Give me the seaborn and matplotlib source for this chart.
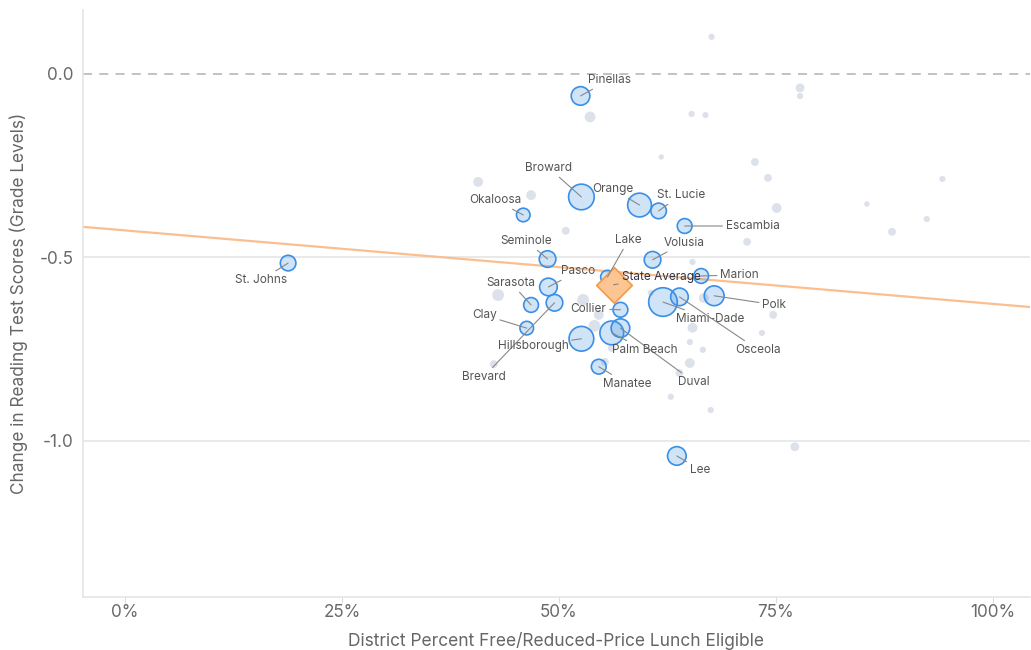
import numpy as np
import pandas as pd
import seaborn as sns
import matplotlib.pyplot as plt
from matplotlib.ticker import FuncFormatter

# --- labeled districts (x = % free/reduced lunch, y = change in grade levels) ---
districts = ["Pinellas", "Broward", "Orange", "St. Lucie", "Okaloosa", "Escambia",
             "Seminole", "Volusia", "St. Johns", "Lake", "Marion", "Pasco", "Polk",
             "Miami-Dade", "Osceola", "Sarasota", "Brevard", "Collier", "Clay",
             "Duval", "Palm Beach", "Hillsborough", "Manatee", "Lee"]
district_frl = [52.5, 52.6, 59.3, 61.5, 45.9, 64.5, 48.7, 60.8, 18.8, 55.6, 66.4,
                48.8, 67.9, 62.0, 63.9, 46.8, 49.5, 57.1, 46.3, 57.1, 56.1, 52.6,
                54.6, 63.6]
district_change = [-0.061, -0.336, -0.358, -0.374, -0.385, -0.415, -0.505, -0.507,
                   -0.516, -0.554, -0.551, -0.581, -0.605, -0.622, -0.608, -0.630,
                   -0.624, -0.643, -0.693, -0.693, -0.706, -0.722, -0.798, -1.041]
# enrollment, thousands
district_enroll = [150, 285, 245, 105, 80, 95, 120, 120, 105, 80, 95, 135, 170,
                   355, 135, 95, 120, 95, 80, 150, 245, 265, 95, 150]

# --- other (unlabeled) districts ---
other_frl = [67.6, 77.8, 77.8, 53.6, 65.3, 66.9, 61.8, 72.6, 74.1, 40.7, 46.8, 94.2,
             75.1, 85.5, 92.4, 88.4, 50.8, 71.7, 65.4, 43.0, 52.8, 60.6, 66.7, 74.7,
             54.6, 54.1, 65.4, 65.1, 73.4, 66.6, 56.1, 65.1, 42.5, 55.3, 63.9, 62.9,
             67.5, 77.2]
other_change = [0.100, -0.039, -0.061, -0.118, -0.110, -0.113, -0.227, -0.241, -0.284,
                -0.295, -0.331, -0.287, -0.366, -0.355, -0.396, -0.431, -0.428, -0.458,
                -0.513, -0.603, -0.616, -0.597, -0.611, -0.657, -0.657, -0.687, -0.692,
                -0.731, -0.706, -0.752, -0.747, -0.788, -0.791, -0.785, -0.815, -0.880,
                -0.916, -1.016]
other_enroll = [17, 34, 17, 51, 17, 17, 13, 27, 27, 42, 42, 17, 42, 13, 17, 27, 27, 27,
                17, 61, 61, 17, 42, 27, 42, 61, 42, 17, 17, 17, 27, 42, 27, 27, 27, 17,
                17, 34]

state_frl = [56.3]
state_change = [-0.575]

# trend line
trend_intercept = -0.427
trend_slope = -0.0020

# label offsets in pixels (dx, dy, ha)
label_pos = {
    "Pinellas": (7, 16, "left"), "Broward": (-9, 29, "right"),
    "Orange": (-6, 16, "right"), "St. Lucie": (-2, 16, "left"),
    "Okaloosa": (-2, 15, "right"), "Escambia": (41, 0, "left"),
    "Seminole": (-21, 18, "center"), "Volusia": (11, 17, "left"),
    "St. Johns": (-27, -17, "center"), "Lake": (21, 37, "center"),
    "Marion": (19, 1, "left"), "Pasco": (13, 16, "left"),
    "Polk": (48, -9, "left"), "Miami-Dade": (13, -17, "left"),
    "Osceola": (56, -53, "left"), "Sarasota": (-20, 22, "center"),
    "Brevard": (-49, -74, "right"), "Collier": (-14, 1, "right"),
    "Clay": (-30, 13, "right"), "Duval": (58, -54, "left"),
    "Palm Beach": (0, -17, "left"), "Hillsborough": (-13, -7, "right"),
    "Manatee": (4, -17, "left"), "Lee": (13, -14, "left"),
}

sns.set_theme(style="white")
plt.rcParams["font.family"] = ["Inter", "DejaVu Sans"]
plt.rcParams["axes.unicode_minus"] = False

df_lab = pd.DataFrame({"frl": district_frl, "chg": district_change,
                       "enroll": district_enroll, "name": districts})
df_oth = pd.DataFrame({"frl": other_frl, "chg": other_change, "enroll": other_enroll})

fig = plt.figure(figsize=(10.31, 6.5), dpi=100)
ax = fig.add_axes([83 / 1031, 53 / 650, 947 / 1031, 587 / 650])

size_kw = dict(size="enroll", sizes=(0, 430), size_norm=(0, 360), legend=False)

sns.scatterplot(data=df_oth, x="frl", y="chg", color="#dde2ea", linewidth=0,
                ax=ax, zorder=2, **size_kw)
ax.axline((0, trend_intercept), slope=trend_slope, color="#fbbf8f", lw=1.6, zorder=2.5)
sns.scatterplot(data=df_lab, x="frl", y="chg", color=(0.17, 0.53, 0.89, 0.22),
                edgecolor="#3a8fe6", linewidth=1.2, ax=ax, zorder=3, **size_kw)
sns.scatterplot(x=state_frl, y=state_change, marker="D", s=330, color="#fcc591",
                edgecolor="#f29a4b", linewidth=1.2, ax=ax, zorder=4, legend=False)

for name, x, y in zip(districts, district_frl, district_change):
    dx, dy, ha = label_pos[name]
    ax.annotate(name, (x, y), xytext=(dx, dy), textcoords="offset pixels",
                ha=ha, va="center", fontsize=8.5, color="#555555", zorder=5,
                arrowprops=dict(arrowstyle="-", color="#888888", lw=0.8,
                                shrinkA=0, shrinkB=0))
ax.annotate("State Average", (state_frl[0], state_change[0]), xytext=(8, 8),
            textcoords="offset pixels", ha="left", va="center", fontsize=8.5,
            color="#333344", zorder=5,
            arrowprops=dict(arrowstyle="-", color="#888888", lw=0.8, shrinkA=0, shrinkB=0))

ax.set_xlim(-4.84, 104.3)
ax.set_ylim(-1.425, 0.173)
ax.set_xticks([0, 25, 50, 75, 100])
ax.xaxis.set_major_formatter(FuncFormatter(lambda v, p: f"{v:.0f}%"))
ax.set_yticks([0.0, -0.5, -1.0])
ax.yaxis.set_major_formatter(FuncFormatter(lambda v, p: f"{v:.1f}"))

ax.axhline(0, color="#bdbdbd", lw=1.3, ls=(0, (5, 4)), zorder=1)
for yv in [-0.5, -1.0]:
    ax.axhline(yv, color="#e3e3e3", lw=1.1, zorder=1)

for s in ["top", "right"]:
    ax.spines[s].set_visible(False)
for s in ["left", "bottom"]:
    ax.spines[s].set_color("#e3e3e3")
    ax.spines[s].set_linewidth(1.1)

ax.tick_params(axis="x", length=4, width=0.8, color="#dddddd", labelsize=12.3,
               labelcolor="#6a6a6a", pad=1, bottom=True)
ax.tick_params(axis="y", length=0, labelsize=12.3, labelcolor="#6a6a6a", pad=7)

ax.set_xlabel("District Percent Free/Reduced-Price Lunch Eligible", fontsize=12.5,
              color="#666666", labelpad=8)
ax.set_ylabel("Change in Reading Test Scores (Grade Levels)", fontsize=12.4,
              color="#666666", labelpad=8)

fig.savefig("out.png", dpi=100)
